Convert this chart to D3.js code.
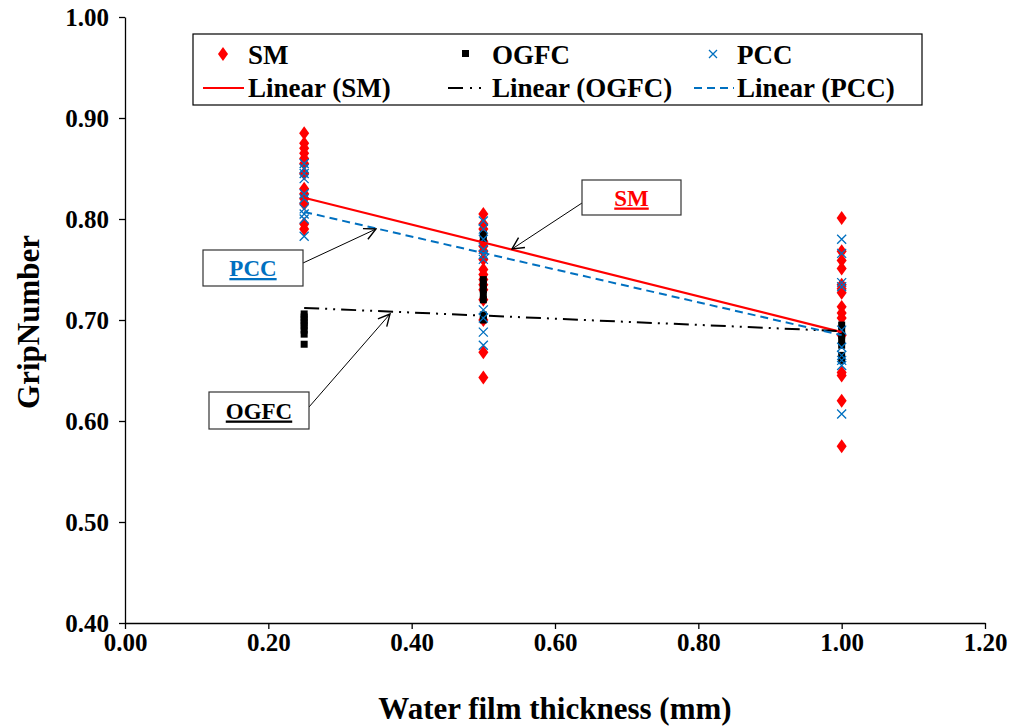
<!DOCTYPE html>
<html><head><meta charset="utf-8">
<script src="https://cdn.jsdelivr.net/npm/d3@7"></script>
<style>body{margin:0;background:#fff}
svg text{font-family:"Liberation Serif","LiberationSerif","Times New Roman",Times,"Nimbus Roman","DejaVu Serif",serif !important;font-weight:bold}</style>
</head><body>
<svg id="c" width="1015" height="727"></svg>
<script>
const xTicks = [0.00,0.20,0.40,0.60,0.80,1.00,1.20];
const yTicks = [0.40,0.50,0.60,0.70,0.80,0.90,1.00];
// SM points
const smX = [0.25,0.25,0.25,0.25,0.25,0.25,0.25,0.25,0.25,0.25,0.25,0.25,0.25,
  0.5,0.5,0.5,0.5,0.5,0.5,0.5,0.5,0.5,0.5,0.5,0.5,0.5,0.5,0.5,0.5,
  1,1,1,1,1,1,1,1,1,1,1,1,1,1,1];
const smY = [0.885,0.875,0.870,0.865,0.860,0.855,0.845,0.830,0.825,0.820,0.815,0.795,0.790,
  0.805,0.795,0.790,0.778,0.773,0.768,0.760,0.750,0.745,0.740,0.735,0.730,0.720,0.700,0.668,0.643,
  0.801,0.768,0.759,0.751,0.735,0.731,0.727,0.713,0.707,0.702,0.685,0.648,0.645,0.620,0.575];
// OGFC points
const ogX = [0.25,0.25,0.25,0.25,0.25,0.25,0.25,0.25,
  0.5,0.5,0.5,0.5,0.5,0.5,0.5,0.5,0.5,
  1,1,1,1,1,1,1];
const ogY = [0.706,0.703,0.700,0.697,0.694,0.690,0.686,0.676,
  0.785,0.780,0.740,0.735,0.730,0.725,0.720,0.705,0.700,
  0.695,0.690,0.685,0.680,0.675,0.665,0.660];
// PCC points
const pcX = [0.25,0.25,0.25,0.25,0.25,0.25,0.25,0.25,0.25,0.25,
  0.5,0.5,0.5,0.5,0.5,0.5,0.5,0.5,0.5,0.5,
  1,1,1,1,1,1,1,1,1,1];
const pcY = [0.855,0.850,0.845,0.840,0.825,0.820,0.810,0.805,0.800,0.783,
  0.798,0.790,0.780,0.770,0.765,0.760,0.710,0.702,0.688,0.675,
  0.780,0.766,0.737,0.733,0.690,0.673,0.665,0.660,0.655,0.607];
// Trend line end values (x = 0.25 and x = 1.00)
const trendX = [0.25,1.00];
const smTrend = [0.821,0.688];
const ogTrend = [0.712,0.689];
const pcTrend = [0.807,0.685];

const svg = d3.select("#c");
const L=125,R=985,T=17,B=623;
const x = d3.scaleLinear().domain([0,1.2]).range([L,R]);
const y = d3.scaleLinear().domain([0.4,1.0]).range([B,T]);

// axes
const xa = svg.append("g").attr("transform",`translate(0,${B})`)
  .call(d3.axisBottom(x).tickValues(xTicks).tickFormat(d3.format(".2f")).tickSize(6).tickSizeOuter(0));
const ya = svg.append("g").attr("transform",`translate(${L},0)`)
  .call(d3.axisLeft(y).tickValues(yTicks).tickFormat(d3.format(".2f")).tickSize(6).tickSizeOuter(0));
[xa,ya].forEach(a=>{a.attr("font-family",null).attr("font-size",null);
  a.selectAll("path,line").attr("stroke","#000").attr("stroke-width",1.3);
  a.selectAll("text").attr("font-size",25).attr("fill","#000");});
xa.selectAll("text").attr("y",8).attr("dy","0.78em");
ya.selectAll("text").attr("x",-16).attr("dy","0.35em");

svg.append("text").attr("x",555).attr("y",719).attr("text-anchor","middle").attr("font-size",31).text("Water film thickness (mm)");
svg.append("text").attr("transform","translate(39,322) rotate(-90)").attr("text-anchor","middle").attr("font-size",31).text("GripNumber");

const RED="#FF0000", BLUE="#0070C0";
const line = d3.line().x(d=>x(d[0])).y(d=>y(d[1]));
const g = svg.append("g");
// markers
const diamond = d3.symbol().type(d3.symbolDiamond).size(56);
g.selectAll(".sm").data(d3.zip(smX,smY)).join("path")
  .attr("d",diamond).attr("transform",d=>`translate(${x(d[0])},${y(d[1])}) scale(1.25,1)`).attr("fill",RED);
g.selectAll(".og").data(d3.zip(ogX,ogY)).join("rect")
  .attr("x",d=>x(d[0])-3.5).attr("y",d=>y(d[1])-3.5).attr("width",7).attr("height",7).attr("fill","#000");
g.selectAll(".pc").data(d3.zip(pcX,pcY)).join("path")
  .attr("d",d=>{const cx=x(d[0]),cy=y(d[1]),s=4.5;return `M${cx-s},${cy-s}L${cx+s},${cy+s}M${cx-s},${cy+s}L${cx+s},${cy-s}`;})
  .attr("stroke",BLUE).attr("stroke-width",1.3).attr("fill","none");
// trend lines
g.append("path").attr("d",line(d3.zip(trendX,smTrend))).attr("stroke",RED).attr("stroke-width",2.2).attr("fill","none");
g.append("path").attr("d",line(d3.zip(trendX,ogTrend))).attr("stroke","#000").attr("stroke-width",2).attr("fill","none").attr("stroke-dasharray","15,6,2,6,2,6");
g.append("path").attr("d",line(d3.zip(trendX,pcTrend))).attr("stroke",BLUE).attr("stroke-width",2).attr("fill","none").attr("stroke-dasharray","8,5");

// legend
const lg = svg.append("g");
lg.append("rect").attr("x",193).attr("y",34).attr("width",729).attr("height",71).attr("fill","#fff").attr("stroke","#000").attr("stroke-width",1.2);
const fs=27;
lg.append("path").attr("d",diamond).attr("transform","translate(223,54) scale(1.25,1)").attr("fill",RED);
lg.append("text").attr("x",248).attr("y",64).attr("font-size",fs).text("SM");
lg.append("rect").attr("x",462).attr("y",50).attr("width",7).attr("height",7).attr("fill","#000");
lg.append("text").attr("x",492).attr("y",64).attr("font-size",fs).text("OGFC");
lg.append("path").attr("d","M709,50L717,58M709,58L717,50").attr("stroke",BLUE).attr("stroke-width",1.3);
lg.append("text").attr("x",737).attr("y",64).attr("font-size",fs).text("PCC");
lg.append("line").attr("x1",203).attr("x2",244).attr("y1",88).attr("y2",88).attr("stroke",RED).attr("stroke-width",2.2);
lg.append("text").attr("x",248).attr("y",97).attr("font-size",fs).text("Linear (SM)");
lg.append("line").attr("x1",448).attr("x2",482).attr("y1",88).attr("y2",88).attr("stroke","#000").attr("stroke-width",2).attr("stroke-dasharray","15,7,2,7,2,7");
lg.append("text").attr("x",492).attr("y",97).attr("font-size",fs).text("Linear (OGFC)");
lg.append("line").attr("x1",694).attr("x2",734).attr("y1",88).attr("y2",88).attr("stroke",BLUE).attr("stroke-width",2).attr("stroke-dasharray","8,5");
lg.append("text").attr("x",737).attr("y",97).attr("font-size",fs).text("Linear (PCC)");

// callouts
svg.append("defs").append("marker").attr("id","ar").attr("viewBox","0 0 12 12").attr("refX",11).attr("refY",6)
  .attr("markerWidth",14).attr("markerHeight",14).attr("markerUnits","userSpaceOnUse").attr("orient","auto")
  .append("path").attr("d","M1,1L11,6L1,11").attr("fill","none").attr("stroke","#000").attr("stroke-width",1.2);
function callout(bx,by,bw,bh,label,col,lx1,ly1,lx2,ly2){
  svg.append("line").attr("x1",lx1).attr("y1",ly1).attr("x2",lx2).attr("y2",ly2).attr("stroke","#000").attr("stroke-width",1).attr("marker-end","url(#ar)");
  svg.append("rect").attr("x",bx).attr("y",by).attr("width",bw).attr("height",bh).attr("fill","#fff").attr("stroke","#333").attr("stroke-width",1.2);
  svg.append("text").attr("x",bx+bw/2).attr("y",by+bh/2+8).attr("text-anchor","middle").attr("font-size",23).attr("fill",col)
   .attr("text-decoration","underline").text(label);
}
callout(582,180,99,35,"SM",RED,582,203,512,249);
callout(203,250,100,36,"PCC",BLUE,303,263,376,229);
callout(209,392,100,37,"OGFC","#000",309,407,390,314);
</script>
</body></html>
